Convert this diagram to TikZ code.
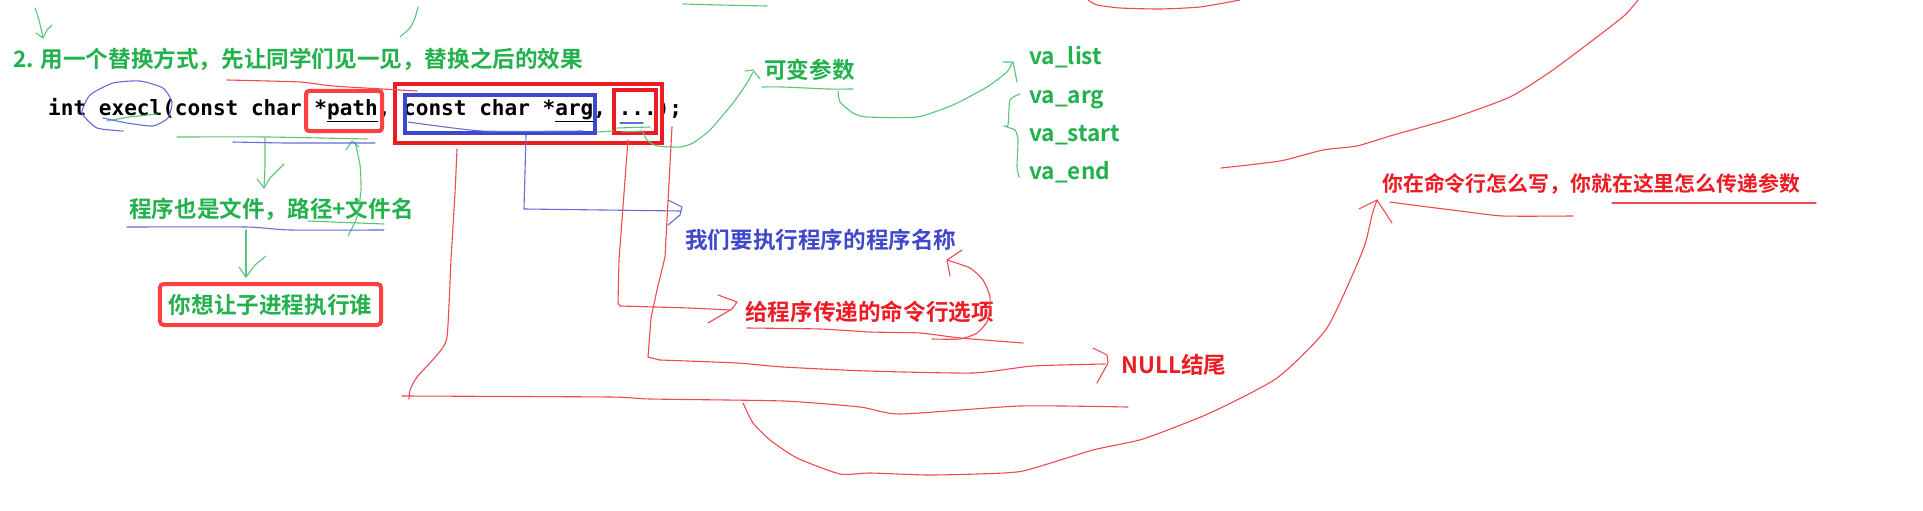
\documentclass[tikz,border=0pt]{standalone}
\usepackage{fontspec}
\usepackage{xcolor}
\newfontfamily\cjk{Noto Sans CJK SC Bold}
\newfontfamily\codefnt{DejaVu Sans Mono}
\definecolor{pgreen}{HTML}{22B14C}
\definecolor{pblue}{HTML}{3F48CC}
\definecolor{pred}{HTML}{ED1C24}
\definecolor{boxred}{HTML}{FF4040}
\tikzset{
  hg/.style={draw=pgreen!75,line width=1.1pt,line cap=round,line join=round},
  hb/.style={draw=pblue!80,line width=1.1pt,line cap=round,line join=round},
  hr/.style={draw=pred!80,line width=1.1pt,line cap=round,line join=round},
  bx/.style={line width=4pt},
  gtx/.style={inner sep=0pt,anchor=base west,text=pgreen,font=\cjk\fontsize{22.6}{26}\selectfont},
  btx/.style={gtx,text=pblue},
  rtx/.style={gtx,text=pred}
}
\newcommand{\hand}[2]{\draw[#1] plot[smooth,tension=.35] coordinates {#2};}

\begin{document}
\begin{tikzpicture}[x=1pt,y=-1pt]
\useasboundingbox[fill=white] (0,0) rectangle (1923,511);
\node[gtx] (head) at (13,67) {2. 用一个替换方式，先让同学们见一见，替换之后的效果};
\node[inner sep=0pt,anchor=base west,font=\codefnt\bfseries\fontsize{21.06}{24}\selectfont] (code) at (48,115) {int execl(const char *\underline{path}, const char *\underline{arg}, ...);};
\draw[bx,draw=boxred,rounded corners=3pt] (306,91) rectangle (382,131);
\draw[bx,draw=pred] (395,84) rectangle (662,143);
\draw[bx,draw=pblue] (405,95) rectangle (595,133);
\draw[bx,draw=pred] (614,90) rectangle (656,133);
\node[gtx] (vararg) at (764,78) {可变参数};
\node[gtx] (valist) at (1029,65) {va\_list};
\node[gtx] (vaarg) at (1029,103) {va\_arg};
\node[gtx] (vastart) at (1029,141) {va\_start};
\node[gtx] (vaend) at (1029,179) {va\_end};
\node[gtx] (pathtxt) at (129,217) {程序也是文件，路径+文件名};
\node[gtx,anchor=center,draw=boxred,line width=4pt,rounded corners=4pt,inner xsep=9pt,minimum height=41pt] (who) at (270.5,304.5) {你想让子进程执行谁};
\node[btx] (progname) at (685,248) {我们要执行程序的程序名称};
\node[rtx] (cmdopt) at (745,320) {给程序传递的命令行选项};
\node[rtx] (nullend) at (1121,373) {NULL结尾};
\node[rtx,font=\cjk\fontsize{20.9}{24}\selectfont] (cmdline) at (1382,191) {你在命令行怎么写，你就在这里怎么传递参数};

\hand{hg}{(35,8) (39,20) (43,37)} \draw[hg] (36,33) -- (43,38) -- (47,30) -- (52,25);
\hand{hg}{(418,7) (415,18) (410,28) (400,37)}
\hand{hg}{(683,4) (720,5) (767,6)}
\hand{hg}{(107,121) (130,117) (157,114)}
\hand{hg}{(177,137) (267,137) (367,139)}
\hand{hg}{(265,138) (265,165) (264,188)} \draw[hg] (257,179) -- (264,188) -- (270,178) -- (284,164);
\hand{hg}{(348,236) (357,217) (361,190) (360,165) (355,142)} \draw[hg] (346,150) -- (352,141) -- (359,147);
\hand{hg}{(308,221) (384,224)}
\hand{hg}{(246,230) (246,250) (246,277)} \draw[hg] (239,267) -- (246,277) -- (255,265) -- (266,256);
\hand{hg}{(597,132) (613,131)} \hand{hg}{(617,128) (650,127)} \hand{hg}{(622,132) (643,131)}
\hand{hg}{(643,132) (647,140) (657,146) (680,147) (693,143) (710,130) (733,103) (747,83) (753,72)} \draw[hg] (745,71) -- (753,70) -- (760,79);
\hand{hg}{(762,87) (783,87) (828,89) (853,89)}
\hand{hg}{(838,91) (840,102) (853,113) (867,117) (917,117) (953,105) (987,87) (1007,72) (1012,63)} \draw[hg] (1003,62) -- (1013,62) -- (1017,82);
\hand{hg}{(1020,94) (1010,100) (1008,125) (1004,126) (1015,130) (1018,140) (1017,167) (1019,177)}

\hand{hb}{(123,131) (97,128) (82,113) (90,95) (113,83) (140,81) (163,88) (172,102) (168,118) (153,126) (127,123) (103,118)}
\hand{hb}{(233,142) (287,143) (375,143)}
\hand{hb}{(408,122) (482,131) (583,131)}
\draw[hb] (526,135) -- (524,209) -- (681,211); \draw[hb] (668,200) -- (682,207) -- (680,215) -- (668,225);
\hand{hb}{(127,227) (246,227) (290,230) (384,230)}
\hand{hb}{(620,123) (643,123)}

\hand{hr}{(227,80) (300,82) (333,86) (417,91)}
\hand{hr}{(457,149) (455,193) (451,260) (447,337) (437,355) (417,377) (410,390) (409,399)}
\hand{hr}{(402,396) (610,397) (650,399) (783,401) (860,407) (900,414) (1020,406) (1128,407)}
\draw[hr] (628,140) -- (619,260) -- (618,303) -- (620,306) -- (690,308) -- (730,310); \draw[hr] (718,295) -- (737,302) -- (732,309) -- (708,323);
\draw[hr] (672,127) -- (665,257) -- (657,290) -- (651,318) -- (648,357) -- (660,360);
\hand{hr}{(660,360) (737,363) (783,367) (867,371) (973,373) (1033,366) (1105,364)} \draw[hr] (1093,348) -- (1107,355) -- (1108,363) -- (1097,383);
\hand{hr}{(747,328) (820,329) (870,332) (920,333) (960,338) (1023,343)}
\hand{hr}{(932,339) (960,339) (977,333) (988,320) (990,297) (983,280) (970,268) (947,260)} \draw[hr] (950,276) -- (947,260) -- (962,250);
\hand{hr}{(743,403) (753,423) (770,440) (797,458) (840,474) (870,473) (927,475) (977,474) (1023,471) (1093,450) (1143,439) (1210,413) (1277,378) (1327,328) (1363,250) (1372,215) (1377,200)} \draw[hr] (1359,209) -- (1377,200) -- (1392,223);
\hand{hr}{(1390,202) (1420,206) (1460,211) (1503,216) (1573,216)}
\hand{hr}{(1612,203) (1816,203)}
\hand{hr}{(1221,168) (1280,161) (1323,150) (1357,146) (1390,136) (1453,118) (1510,97) (1550,72) (1597,37) (1625,15) (1638,0)}
\hand{hr}{(1088,0) (1097,5) (1120,8) (1160,9) (1200,7) (1240,0)}
\end{tikzpicture}
\end{document}
